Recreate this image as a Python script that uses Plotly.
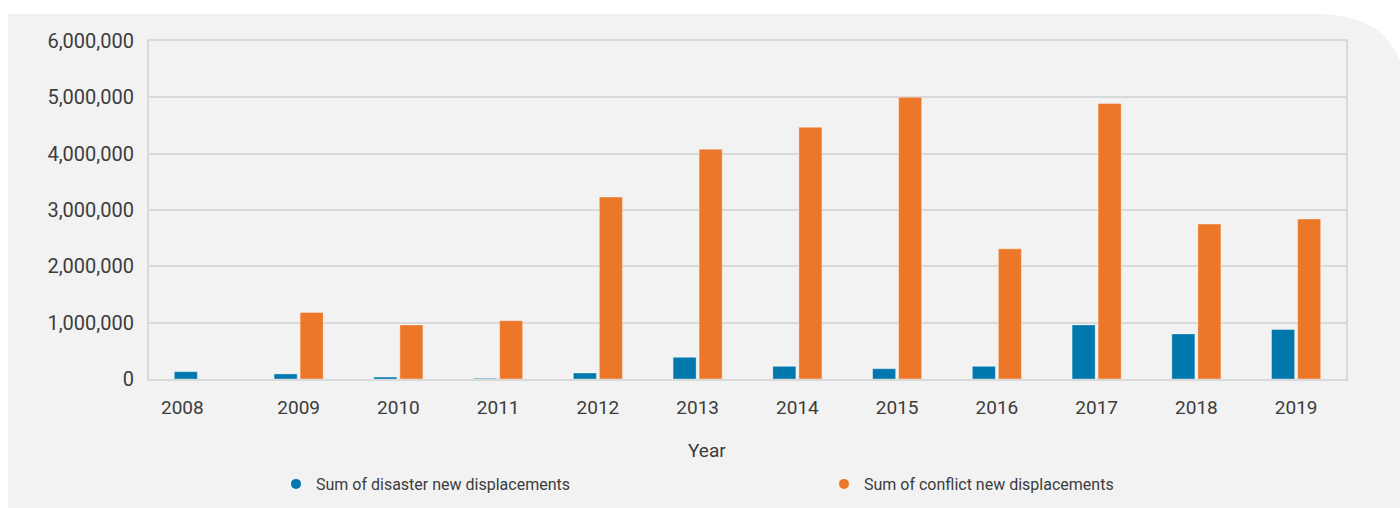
import plotly.graph_objects as go

# Annual new displacements by cause
years = ["2008", "2009", "2010", "2011", "2012", "2013",
         "2014", "2015", "2016", "2017", "2018", "2019"]
disaster = [130000, 90000, 35000, 12000, 107000, 385000,
            225000, 183000, 225000, 960000, 800000, 880000]
conflict = [None, 1180000, 960000, 1035000, 3230000, 4080000,
            4470000, 5000000, 2310000, 4890000, 2750000, 2840000]
y_ticks = [0, 1000000, 2000000, 3000000, 4000000, 5000000, 6000000]
y_tick_text = ["0", "1,000,000", "2,000,000", "3,000,000",
               "4,000,000", "5,000,000", "6,000,000"]

BLUE = "#0078AD"
ORANGE = "#ED7728"
PANEL = "#F2F2F2"
GRID = "#D9D9D9"
TEXT = "#3C3C3C"

W, H = 1400, 508
ML, MR, MT, MB = 149, 54, 41, 129
PW, PH = W - ML - MR, H - MT - MB


def px_x(px):
    return (px - ML) / PW


def px_y(py):
    return (H - MB - py) / PH


fig = go.Figure()

fig.add_trace(go.Bar(
    x=years, y=disaster, name="Sum of disaster new displacements",
    marker=dict(color=BLUE, line=dict(color="rgba(255,255,255,0.35)", width=1)),
    showlegend=False,
))
fig.add_trace(go.Bar(
    x=years, y=conflict, name="Sum of conflict new displacements",
    marker=dict(color=ORANGE, line=dict(color="rgba(255,255,255,0.35)", width=1)),
    showlegend=False,
))

# Round legend markers, one legend box per series
for name, col, lg in [("Sum of disaster new displacements", BLUE, "legend"),
                      ("Sum of conflict new displacements", ORANGE, "legend2")]:
    fig.add_trace(go.Scatter(
        x=[years[0]], y=[None], mode="markers", name=name,
        marker=dict(color=col, size=10, symbol="circle"),
        showlegend=True, legend=lg,
    ))

# Background panel with a rounded top-right corner
r = 90
x0, y0 = px_x(8), px_y(14)
x1 = px_x(W + 10)
yb = px_y(H + 5)
cx = px_x(1317)
panel_path = (
    f"M {x0},{yb} L {x0},{y0} L {cx},{y0} "
    f"Q {px_x(1317 + r)},{y0} {px_x(1317 + r)},{px_y(14 + r)} "
    f"L {x1},{px_y(14 + r)} L {x1},{yb} Z"
)
fig.add_shape(type="path", path=panel_path, xref="paper", yref="paper",
              fillcolor=PANEL, line=dict(width=0), layer="below")

# First category label sits slightly left of its bar group
tick_text = [""] + years[1:]
fig.add_annotation(x=0, y=0, xref="x", yref="paper", text=years[0],
                   showarrow=False, xanchor="center", yanchor="top",
                   yshift=-15, xshift=-16,
                   font=dict(family="Roboto", size=19, color=TEXT))

fig.add_annotation(x=px_x(707), y=px_y(450), xref="paper", yref="paper",
                   text="Year", showarrow=False,
                   xanchor="center", yanchor="middle",
                   font=dict(family="Roboto", size=19, color=TEXT))

legend_common = dict(
    orientation="h", xanchor="left", yanchor="middle",
    xref="container", yref="container",
    font=dict(family="Roboto", size=16, color=TEXT),
    bgcolor="rgba(0,0,0,0)", itemwidth=30,
)

fig.update_layout(
    width=W, height=H,
    margin=dict(l=ML, r=MR, t=MT, b=MB, pad=0),
    paper_bgcolor="white",
    plot_bgcolor="rgba(0,0,0,0)",
    barmode="group",
    bargap=0.478,
    bargroupgap=0.115,
    font=dict(family="Roboto", color=TEXT),
    legend=dict(x=276 / W, y=1 - 484 / H, **legend_common),
    legend2=dict(x=824 / W, y=1 - 484 / H, **legend_common),
    xaxis=dict(
        type="category", categoryorder="array", categoryarray=years,
        range=[-0.5, len(years) - 0.5],
        tickmode="array", tickvals=years, ticktext=tick_text,
        tickfont=dict(family="Roboto", size=19, color=TEXT),
        showline=True, linecolor=GRID, linewidth=2, mirror=True,
        showgrid=False, ticks="", ticklabelstandoff=10,
    ),
    yaxis=dict(
        range=[0, 6000000],
        tickmode="array", tickvals=y_ticks, ticktext=y_tick_text,
        tickfont=dict(family="Roboto", size=20, color=TEXT),
        showline=True, linecolor=GRID, linewidth=2, mirror=True,
        showgrid=True, gridcolor=GRID, gridwidth=1.5,
        zeroline=False, ticks="", ticklabelstandoff=9,
    ),
)

fig.write_html("out.html")
